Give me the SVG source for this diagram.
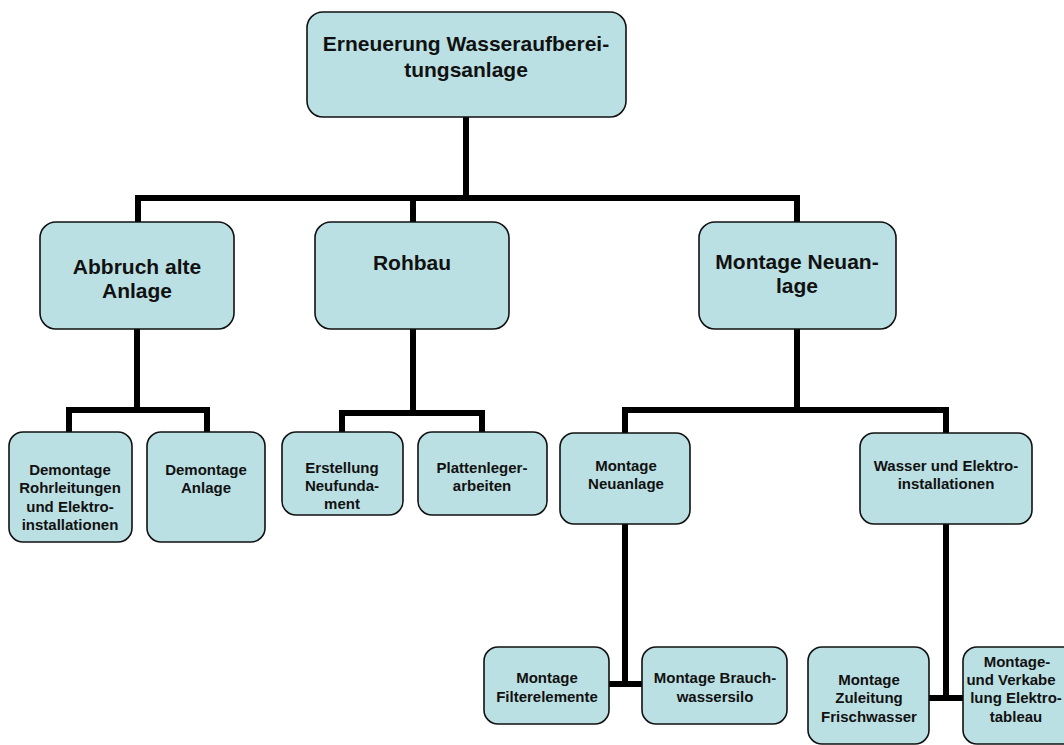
<svg xmlns="http://www.w3.org/2000/svg" width="1064" height="745" viewBox="0 0 1064 745">
<style>
.box{fill:#BBE0E3;stroke:#111;stroke-width:1.6}
.t{font-family:"Liberation Sans",Arial,sans-serif;font-weight:bold;fill:#111;text-anchor:middle}
.l1{font-size:21px}
.l3{font-size:15px}
.c{stroke:#000;stroke-width:6;fill:none;stroke-linecap:square}
</style>
<rect width="1064" height="745" fill="#fff"/>
<g id="connectors">
<path class="c" d="M466,118V198M138,198H797M138,198V221M413,198V221M797,198V221"/>
<path class="c" d="M137,330V410M69,410H207M69,410V431M207,410V431"/>
<path class="c" d="M413,330V413M342,413H482M342,413V431M482,413V431"/>
<path class="c" d="M797,330V410M625,410H946M625,410V432M946,410V432"/>
<path class="c" d="M625,525V684M610,684H641"/>
<path class="c" d="M946,525V698M930,698H962"/>
</g>
<g id="n-root">
<rect class="box" x="307" y="12" width="319" height="105" rx="16"/>
<text class="t l1" x="466" y="51">Erneuerung Wasseraufberei-</text>
<text class="t l1" x="466" y="77">tungsanlage</text>
</g>
<g id="n-abbruch">
<rect class="box" x="40" y="222" width="194" height="107" rx="16"/>
<text class="t l1" x="137" y="274">Abbruch alte</text>
<text class="t l1" x="137" y="298">Anlage</text>
</g>
<g id="n-rohbau">
<rect class="box" x="315" y="222" width="194" height="107" rx="16"/>
<text class="t l1" x="412" y="270">Rohbau</text>
</g>
<g id="n-montage">
<rect class="box" x="699" y="222" width="197" height="107" rx="16"/>
<text class="t l1" x="797" y="269">Montage Neuan-</text>
<text class="t l1" x="797" y="293">lage</text>
</g>
<g id="n-dem-rohr">
<rect class="box" x="9" y="432" width="123" height="110" rx="14"/>
<text class="t l3" x="70" y="475">Demontage</text>
<text class="t l3" x="70" y="493">Rohrleitungen</text>
<text class="t l3" x="70" y="512">und Elektro-</text>
<text class="t l3" x="70" y="530">installationen</text>
</g>
<g id="n-dem-anlage">
<rect class="box" x="147" y="432" width="118" height="110" rx="14"/>
<text class="t l3" x="206" y="475">Demontage</text>
<text class="t l3" x="206" y="493">Anlage</text>
</g>
<g id="n-erstellung">
<rect class="box" x="282" y="432" width="121" height="83" rx="14"/>
<text class="t l3" x="342" y="473">Erstellung</text>
<text class="t l3" x="342" y="491">Neufunda-</text>
<text class="t l3" x="342" y="509">ment</text>
</g>
<g id="n-platten">
<rect class="box" x="418" y="432" width="129" height="83" rx="14"/>
<text class="t l3" x="482" y="473">Plattenleger-</text>
<text class="t l3" x="482" y="491">arbeiten</text>
</g>
<g id="n-mont-neu">
<rect class="box" x="560" y="433" width="130" height="91" rx="14"/>
<text class="t l3" x="626" y="471">Montage</text>
<text class="t l3" x="626" y="489">Neuanlage</text>
</g>
<g id="n-wasser">
<rect class="box" x="860" y="433" width="172" height="91" rx="14"/>
<text class="t l3" x="946" y="471">Wasser und Elektro-</text>
<text class="t l3" x="946" y="489">installationen</text>
</g>
<g id="n-filter">
<rect class="box" x="484" y="647" width="125" height="77" rx="14"/>
<text class="t l3" x="547" y="683">Montage</text>
<text class="t l3" x="547" y="702">Filterelemente</text>
</g>
<g id="n-brauch">
<rect class="box" x="642" y="647" width="145" height="77" rx="14"/>
<text class="t l3" x="715" y="683">Montage Brauch-</text>
<text class="t l3" x="715" y="702">wassersilo</text>
</g>
<g id="n-zuleitung">
<rect class="box" x="808" y="647" width="121" height="97" rx="14"/>
<text class="t l3" x="869" y="685">Montage</text>
<text class="t l3" x="869" y="703">Zuleitung</text>
<text class="t l3" x="869" y="722">Frischwasser</text>
</g>
<g id="n-tableau">
<rect class="box" x="963" y="647" width="115" height="97" rx="14"/>
<text class="t l3" x="1017" y="667">Montage-</text>
<text class="t l3" x="1011" y="685">und Verkabe</text>
<text class="t l3" x="1016" y="703">lung Elektro-</text>
<text class="t l3" x="1016" y="722">tableau</text>
</g>
</svg>
